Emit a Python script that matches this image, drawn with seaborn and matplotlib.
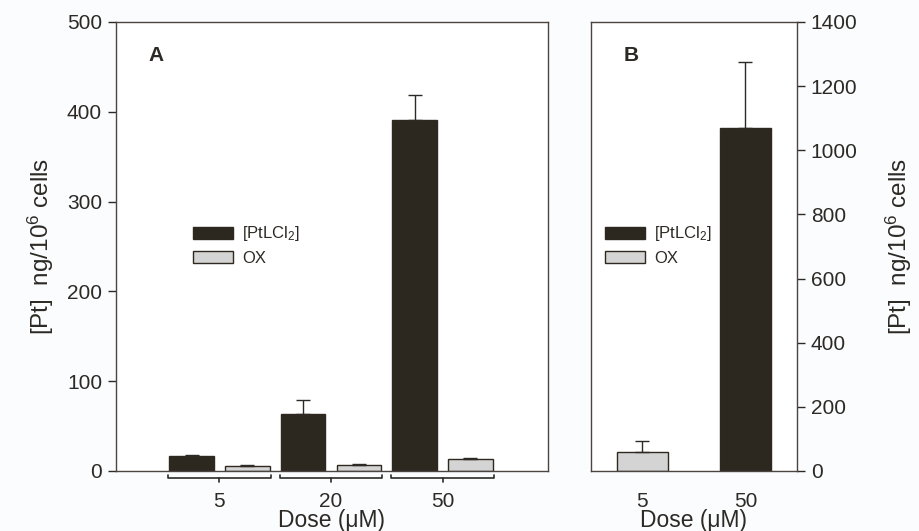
import matplotlib
matplotlib.use("Agg")
import matplotlib.pyplot as plt
import seaborn as sns
import pandas as pd
import numpy as np

# ---- data ----
doses_A = ["5", "20", "50"]
pt_A = [16.5, 64, 391]
pt_A_err = [1.5, 15, 28]
ox_A = [6, 7, 13]
ox_A_err = [0.6, 0.8, 1.2]

doses_B = ["5", "50"]
compound_B = ["OX", "[PtLCl$_2$]"]
values_B = [58, 1068]
err_B = [36, 207]

PT_LABEL = "[PtLCl$_2$]"
OX_LABEL = "OX"

DARK = "#2e281e"
GRAY = "#d4d4d4"
INK = "#2d2a25"
BG = "#fbfcfe"

sns.set_theme(style="white")
plt.rcParams["font.family"] = ["Liberation Sans", "DejaVu Sans"]
plt.rcParams["mathtext.fontset"] = "custom"
plt.rcParams["mathtext.rm"] = "Liberation Sans"
plt.rcParams["mathtext.it"] = "Liberation Sans:italic"
plt.rcParams["text.color"] = INK
plt.rcParams["axes.labelcolor"] = INK
plt.rcParams["xtick.color"] = INK
plt.rcParams["ytick.color"] = INK

fig = plt.figure(figsize=(9.19, 5.31), dpi=100, facecolor=BG)
axA = fig.add_axes([0.1262, 0.113, 0.4701, 0.8456])
axB = fig.add_axes([0.643, 0.113, 0.2242, 0.8456])

palette = {PT_LABEL: DARK, OX_LABEL: GRAY}
leg_kw = dict(loc="upper left", frameon=False, fontsize=12, borderpad=0, borderaxespad=0,
              handlelength=2.4, handleheight=0.72, labelspacing=0.45, handletextpad=0.55)

# ---- panel A ----
dfA = pd.DataFrame({
    "dose": doses_A * 2,
    "compound": [PT_LABEL] * 3 + [OX_LABEL] * 3,
    "value": pt_A + ox_A,
    "err": pt_A_err + ox_A_err,
})
sns.barplot(data=dfA, x="dose", y="value", hue="compound", order=doses_A,
            hue_order=[PT_LABEL, OX_LABEL], palette=palette, width=1.0, gap=0.2,
            edgecolor=DARK, linewidth=1.0, errorbar=None, ax=axA, legend=True)
for cont, errs in zip(axA.containers, [pt_A_err, ox_A_err]):
    xs = [p.get_x() + p.get_width() / 2 for p in cont.patches]
    hs = [p.get_height() for p in cont.patches]
    axA.errorbar(xs, hs, yerr=[np.zeros(len(errs)), errs], fmt="none",
                 ecolor=INK, elinewidth=1.0, capsize=5, capthick=1.0, zorder=1)

axA.set_xlim(-0.928, 2.946)
axA.set_ylim(0, 500)
axA.set_yticks(range(0, 501, 100))
axA.set_ylabel("[Pt]  ng/10$^6$ cells", fontsize=17.5, labelpad=8)
axA.set_xlabel("Dose (μM)", fontsize=16.5, labelpad=-1)
axA.tick_params(axis="y", which="both", left=True, length=6, width=1, labelsize=15, direction="out", pad=4)
axA.tick_params(axis="x", length=0, labelsize=15, pad=15)
axA.text(0.075, 0.925, "A", transform=axA.transAxes, fontsize=15, fontweight="bold", va="center", ha="left")

# brackets under groups
tr = axA.get_xaxis_transform()
for i in range(len(doses_A)):
    xl, xr = i - 0.46, i + 0.46
    axA.plot([xl, xl, xr, xr], [-0.008, -0.0155, -0.0155, -0.008], color=INK, lw=1.2,
             transform=tr, clip_on=False)
    axA.plot([i, i], [-0.0155, -0.024], color=INK, lw=1.2, transform=tr, clip_on=False)

axA.legend(bbox_to_anchor=(0.178, 0.549), **leg_kw)

# ---- panel B ----
dfB = pd.DataFrame({"dose": doses_B, "compound": compound_B, "value": values_B, "err": err_B})
sns.barplot(data=dfB, x="dose", y="value", hue="compound", order=doses_B,
            hue_order=[PT_LABEL, OX_LABEL], palette=palette, dodge=False, width=0.5,
            edgecolor=DARK, linewidth=1.0, errorbar=None, ax=axB, legend=True)
pos = {d: i for i, d in enumerate(doses_B)}
axB.errorbar([pos[d] for d in doses_B], values_B, yerr=[np.zeros(len(err_B)), err_B],
             fmt="none", ecolor=INK, elinewidth=1.0, capsize=5, capthick=1.0, zorder=1)
axB.set_xlim(-0.5, 1.5)
axB.set_ylim(0, 1400)
axB.set_yticks(range(0, 1401, 200))
axB.yaxis.tick_right()
axB.yaxis.set_label_position("right")
axB.set_ylabel("[Pt]  ng/10$^6$ cells", fontsize=17.5, labelpad=19, rotation=90)
axB.set_xlabel("Dose (μM)", fontsize=16.5, labelpad=-1)
axB.tick_params(axis="y", which="both", right=True, left=False, length=6, width=1, labelsize=15, direction="out", pad=4)
axB.tick_params(axis="x", length=0, labelsize=15, pad=15)
axB.text(0.16, 0.925, "B", transform=axB.transAxes, fontsize=15, fontweight="bold", va="center", ha="left")
axB.legend(bbox_to_anchor=(0.068, 0.549), **leg_kw)

for ax in (axA, axB):
    ax.set_facecolor("white")
    for s in ax.spines.values():
        s.set_visible(True)
        s.set_color("#4a4540")
        s.set_linewidth(1.0)

fig.savefig("out.png", dpi=100, facecolor=BG)
